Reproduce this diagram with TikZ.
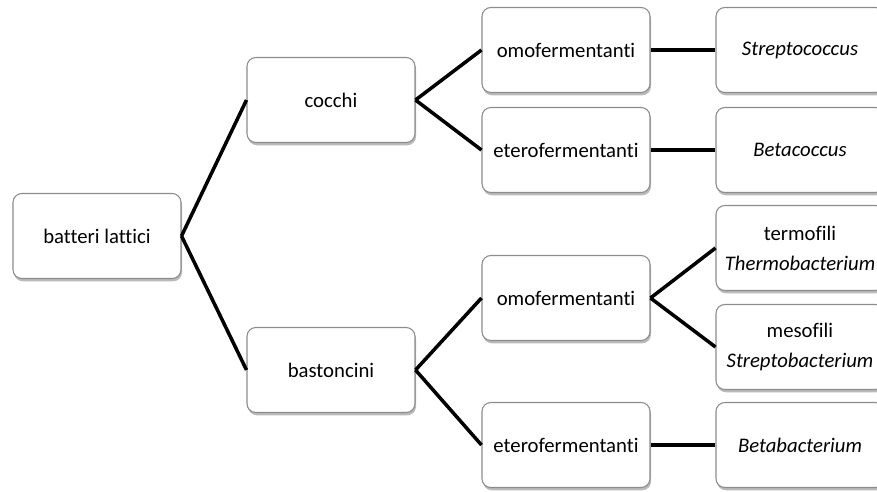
\documentclass[tikz,border=0pt]{standalone}
\usepackage{fontspec}
\setmainfont[Ligatures=NoCommon]{Carlito}
\usetikzlibrary{shadows}

\tikzset{
  box/.style={draw=black!45, line width=0.6pt, fill=white, rounded corners=5pt,
    minimum width=3.36cm, minimum height=1.7cm, inner xsep=1pt, align=center,
    font=\fontsize{11.8}{17}\selectfont,
    drop shadow={shadow xshift=0.6pt, shadow yshift=-1.6pt, opacity=0.45, fill=black!60}},
  link/.style={line width=2pt, black}
}

\begin{document}
\begin{tikzpicture}[x=0.02cm, y=-0.02cm]
      \useasboundingbox (0, 0) rectangle (877, 491);

      \draw (97, 236) node [box] (batteri) {batteri lattici};

      \draw (331, 100) node [box] (cocchi) {cocchi};
      \draw (331, 370) node [box] (bastoncini) {bastoncini};
      \draw [link] (batteri.east) -- (cocchi.west);
      \draw [link] (batteri.east) -- (bastoncini.west);

      % cocchi
      \draw (566, 50) node [box] (cocchi_omo) {omofermentanti};
      \draw (566, 150) node [box] (cocchi_etero) {eterofermentanti};
      \draw [link] (cocchi.east) -- (cocchi_omo.west);
      \draw [link] (cocchi.east) -- (cocchi_etero.west);
      \draw (800, 50) node [box] (strepto) {\textit{Streptococcus}};
      \draw (800, 150) node [box] (betacocco) {\textit{Betacoccus}};
      \draw [link] (cocchi_omo.east) -- (strepto.west);
      \draw [link] (cocchi_etero.east) -- (betacocco.west);

      % bastoncini
      \draw (566, 298) node [box] (bast_omo) {omofermentanti};
      \draw (566, 445) node [box] (bast_etero) {eterofermentanti};
      \draw [link] (bastoncini.east) -- (bast_omo.west);
      \draw [link] (bastoncini.east) -- (bast_etero.west);
      \draw (800, 248) node [box] (termo) {termofili\\\textit{Thermobacterium}};
      \draw (800, 347) node [box] (meso) {mesofili\\\textit{Streptobacterium}};
      \draw (800, 445) node [box] (betabact) {\textit{Betabacterium}};
      \draw [link] (bast_omo.east) -- (termo.west);
      \draw [link] (bast_omo.east) -- (meso.west);
      \draw [link] (bast_etero.east) -- (betabact.west);
\end{tikzpicture}
\end{document}
